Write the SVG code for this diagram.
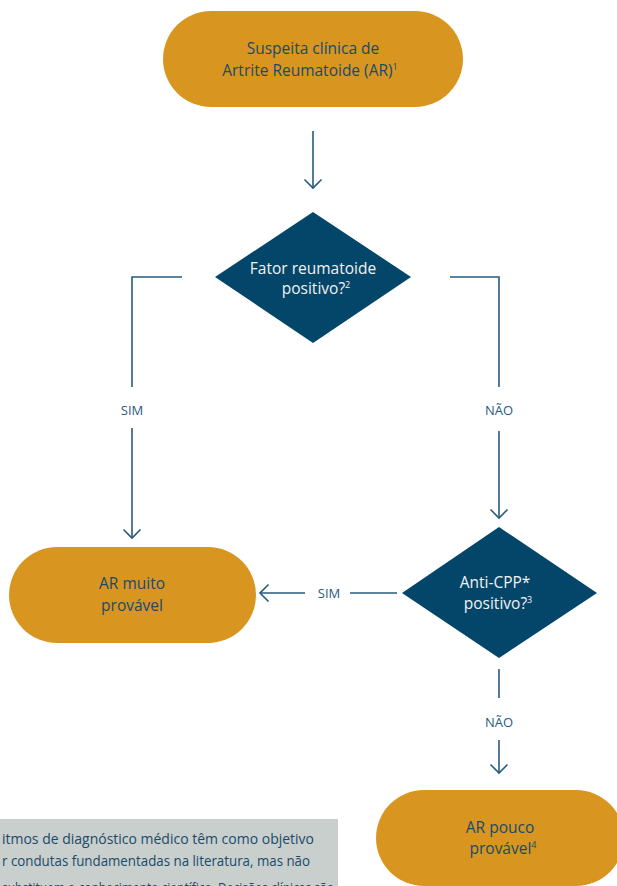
<svg xmlns="http://www.w3.org/2000/svg" width="617" height="886" viewBox="0 0 617 886">
  <defs>
    <style>
      .pill { fill: #d8951f; }
      .diamond { fill: #04466a; }
      .pill-text { font-family: "Open Sans", "Noto Sans", sans-serif; font-size: 15.5px; fill: #1a4a6b; text-anchor: middle; }
      .dia-text { font-family: "Open Sans", "Noto Sans", sans-serif; font-size: 15.5px; fill: #f2f2f2; text-anchor: middle; }
      .sup { font-size: 9px; }
      .edge { fill: none; stroke: #275b7d; stroke-width: 1.6; }
      .label { font-family: "Open Sans", "Noto Sans", sans-serif; font-size: 13px; fill: #275b7d; text-anchor: middle; }
      .note-box { fill: #c9cfcc; }
      .note-text { font-family: "Open Sans", "Noto Sans", sans-serif; font-size: 13.6px; fill: #1a4a6b; }
    </style>
    <marker id="chev" viewBox="-10 -10 20 20" markerWidth="20" markerHeight="20" refX="0" refY="0" orient="auto" markerUnits="userSpaceOnUse">
      <path d="M -8.5 -8.5 L 0 0 L -8.5 8.5" fill="none" stroke="#275b7d" stroke-width="1.6"/>
    </marker>
  </defs>

  <rect width="617" height="886" fill="#ffffff"/>

  <!-- connectors -->
  <g id="connectors">
    <path class="edge" d="M 313 131 L 313 188" marker-end="url(#chev)"/>
    <path class="edge" d="M 182 277 L 132 277 L 132 387"/>
    <path class="edge" d="M 132 428 L 132 538" marker-end="url(#chev)"/>
    <text class="label" x="132" y="415">SIM</text>
    <path class="edge" d="M 450 277 L 499 277 L 499 387"/>
    <path class="edge" d="M 499 431 L 499 518" marker-end="url(#chev)"/>
    <text class="label" x="499" y="415">NÃO</text>
    <path class="edge" d="M 397 593 L 350 593"/>
    <path class="edge" d="M 305 593 L 260 593" marker-end="url(#chev)"/>
    <text class="label" x="329" y="598">SIM</text>
    <path class="edge" d="M 499 669 L 499 698"/>
    <path class="edge" d="M 499 740 L 499 773" marker-end="url(#chev)"/>
    <text class="label" x="499" y="727">NÃO</text>
  </g>

  <!-- start -->
  <g id="start">
    <rect class="pill" x="163" y="11" width="300" height="96" rx="48"/>
    <text class="pill-text" x="313" y="54">Suspeita clínica de</text>
    <text class="pill-text" x="310" y="76">Artrite Reumatoide (AR)<tspan class="sup" dy="-6">1</tspan></text>
  </g>

  <!-- decision: rheumatoid factor -->
  <g id="fator-reumatoide">
    <polygon class="diamond" points="313,212 411,277 313,343 215,277"/>
    <text class="dia-text" x="313" y="274">Fator reumatoide</text>
    <text class="dia-text" x="316" y="294">positivo?<tspan class="sup" dy="-6">2</tspan></text>
  </g>

  <!-- decision: anti-CCP -->
  <g id="anti-cpp">
    <polygon class="diamond" points="499,527 597,593 499,658 402,593"/>
    <text class="dia-text" x="495" y="588">Anti-CPP*</text>
    <text class="dia-text" x="498" y="609">positivo?<tspan class="sup" dy="-6">3</tspan></text>
  </g>

  <!-- outcome: very likely -->
  <g id="ar-muito-provavel">
    <rect class="pill" x="9" y="547" width="247" height="96" rx="48"/>
    <text class="pill-text" x="132" y="589">AR muito</text>
    <text class="pill-text" x="132" y="611">provável</text>
  </g>

  <!-- outcome: unlikely -->
  <g id="ar-pouco-provavel">
    <rect class="pill" x="376" y="790" width="248" height="96" rx="48"/>
    <text class="pill-text" x="500" y="833">AR pouco</text>
    <text class="pill-text" x="503" y="854">provável<tspan class="sup" dy="-6">4</tspan></text>
  </g>

  <!-- disclaimer note -->
  <g id="nota">
    <rect class="note-box" x="-10" y="819" width="348" height="80"/>
    <text class="note-text" x="2" y="844" textLength="312" lengthAdjust="spacingAndGlyphs">itmos de diagnóstico médico têm como objetivo</text>
    <text class="note-text" x="2" y="866" textLength="308" lengthAdjust="spacingAndGlyphs">r condutas fundamentadas na literatura, mas não</text>
    <text class="note-text" x="2" y="893" textLength="332" lengthAdjust="spacingAndGlyphs">substituem o conhecimento científico. Decisões clínicas são</text>
  </g>
</svg>
